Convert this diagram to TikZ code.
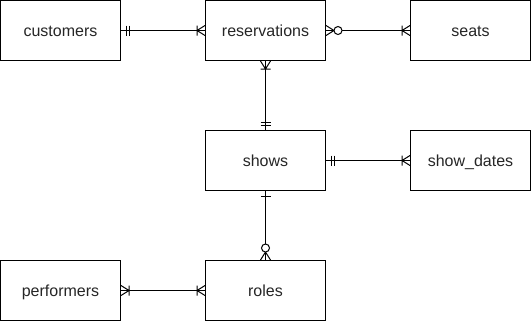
\documentclass[tikz,border=0pt]{standalone}
\usepackage{fontspec}
\setmainfont{Liberation Sans}
\begin{document}
\begin{tikzpicture}[x=1pt,y=-1pt,line width=1pt,
  entity/.style={draw,fill=white,minimum width=120pt,minimum height=60pt,
    inner sep=0pt,text height=12pt,text depth=0.5pt,
    font=\fontsize{16}{19}\selectfont,text=black!85},
  rel/.style={draw,line width=1pt},
  % crow's-foot end markers; local x axis points away from the entity
  ermany/.pic={\draw (0,5)--(8,0)--(0,-5);},
  eronebar/.pic={\draw (5,-5)--(5,5);},
  ermandone/.pic={\draw (5,-5)--(5,5) (8,-5)--(8,5);},
  eronemany/.pic={\draw (0,5)--(8,0)--(0,-5) (8,-5)--(8,5);},
  erzeromany/.pic={\draw (0,5)--(8,0)--(0,-5); \draw[fill=white] (12,0) circle (4);}
]
\useasboundingbox (0,0) rectangle (531,322);

\node[entity] (customers)    at (60.5,30.5)   {customers};
\node[entity] (reservations) at (265.5,30.5)  {reservations};
\node[entity] (seats)        at (470.5,30.5)  {seats};
\node[entity] (shows)        at (265.5,160.5) {shows};
\node[entity] (showdates)    at (470.5,160.5) {show\_dates};
\node[entity] (performers)   at (60.5,290.5)  {performers};
\node[entity] (roles)        at (265.5,290.5) {roles};

% relationships
\draw[rel] (customers) -- (reservations);
\draw[rel] (reservations) -- (seats);
\draw[rel] (reservations) -- (shows);
\draw[rel] (shows) -- (showdates);
\draw[rel] (shows) -- (roles);
\draw[rel] (performers) -- (roles);

% cardinality markers
\pic at (customers.east) {ermandone};
\pic[rotate=180] at (reservations.west) {eronemany};

\pic at (reservations.east) {erzeromany};
\pic[rotate=180] at (seats.west) {eronemany};

\pic[rotate=-90] at (reservations.south) {eronemany};
\pic[rotate=90] at (shows.north) {ermandone};

\pic at (shows.east) {ermandone};
\pic[rotate=180] at (showdates.west) {eronemany};

\pic[rotate=-90] at (shows.south) {eronebar};
\pic[rotate=90] at (roles.north) {erzeromany};

\pic at (performers.east) {eronemany};
\pic[rotate=180] at (roles.west) {eronemany};
\end{tikzpicture}
\end{document}
